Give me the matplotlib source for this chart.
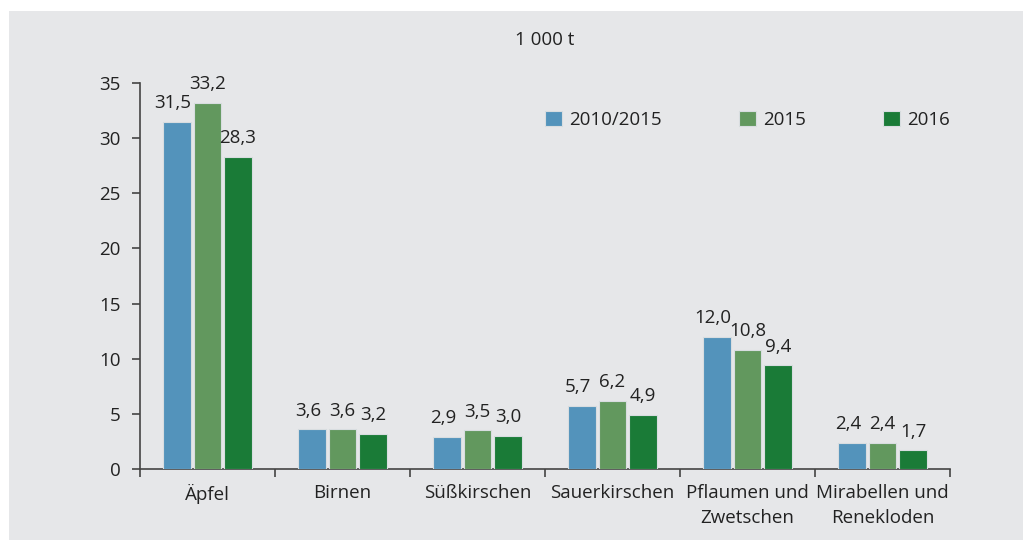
import matplotlib.pyplot as plt
from matplotlib.patches import Rectangle
import numpy as np

plt.rcParams['font.family'] = ['Open Sans', 'DejaVu Sans']

categories = ['Äpfel', 'Birnen', 'Süßkirschen', 'Sauerkirschen',
              'Pflaumen und\nZwetschen', 'Mirabellen und\nRenekloden']
series = ['2010/2015', '2015', '2016']
v_2010_2015 = [31.5, 3.6, 2.9, 5.7, 12.0, 2.4]
v_2015 = [33.2, 3.6, 3.5, 6.2, 10.8, 2.4]
v_2016 = [28.3, 3.2, 3.0, 4.9, 9.4, 1.7]
colors = ['#5393bb', '#62985e', '#1a7b37']
fs = 13.5

fig = plt.figure(figsize=(10.23, 5.43), dpi=100)
fig.patch.set_facecolor('white')
fig.patches.append(Rectangle((9 / 1023, 3 / 543), 1 - 9 / 1023, 529 / 543,
                             transform=fig.transFigure, facecolor='#e6e7e9',
                             edgecolor='none', zorder=-5))

ax = fig.add_axes([140 / 1023, 74 / 543, 810 / 1023, 386 / 543])
ax.set_facecolor('none')

x = np.arange(len(categories)) + 0.5
w = 0.207
step = 0.226
for i, vals in enumerate([v_2010_2015, v_2015, v_2016]):
    xs = x + (i - 1) * step
    ax.bar(xs, vals, width=w, color=colors[i], edgecolor='#d8dde0',
           linewidth=0.8, label=series[i], zorder=3)
    for xi, v in zip(xs, vals):
        ax.annotate(f'{v:.1f}'.replace('.', ','), (xi, v),
                    xytext=(-3 if i == 0 else 0, 7),
                    textcoords='offset points', ha='center', va='bottom',
                    fontsize=fs, color='#222222')

ax.set_xlim(0, 6)
ax.set_ylim(0, 35)
ax.set_yticks(range(0, 36, 5))
ax.set_xticks(range(0, 7))
ax.set_xticklabels([])
ax.set_xticks(x, minor=True)
ax.set_xticklabels(categories, minor=True, fontsize=fs, color='#222222',
                   linespacing=1.5)
ax.tick_params(axis='x', which='major', length=6, width=1.2, color='#444444')
ax.tick_params(axis='x', which='minor', length=0, pad=11)
ax.tick_params(axis='y', length=6, width=1.2, color='#444444', labelsize=fs,
               labelcolor='#222222', pad=8)
for s in ['top', 'right']:
    ax.spines[s].set_visible(False)
for s in ['left', 'bottom']:
    ax.spines[s].set_color('#444444')
    ax.spines[s].set_linewidth(1.2)

fig.text(545 / 1023, 1 - 40 / 543, '1 000 t', ha='center', va='center',
         fontsize=fs, color='#222222')

fig.legend(loc='center left', bbox_to_anchor=(545 / 1023, 1 - 120 / 543),
           bbox_transform=fig.transFigure, ncol=3, frameon=False,
           borderpad=0, borderaxespad=0,
           fontsize=fs, handlelength=0.9, handleheight=0.9, columnspacing=4.1,
           handletextpad=0.4, labelcolor='#222222')

fig.savefig('out.png', dpi=100, facecolor=fig.get_facecolor())
